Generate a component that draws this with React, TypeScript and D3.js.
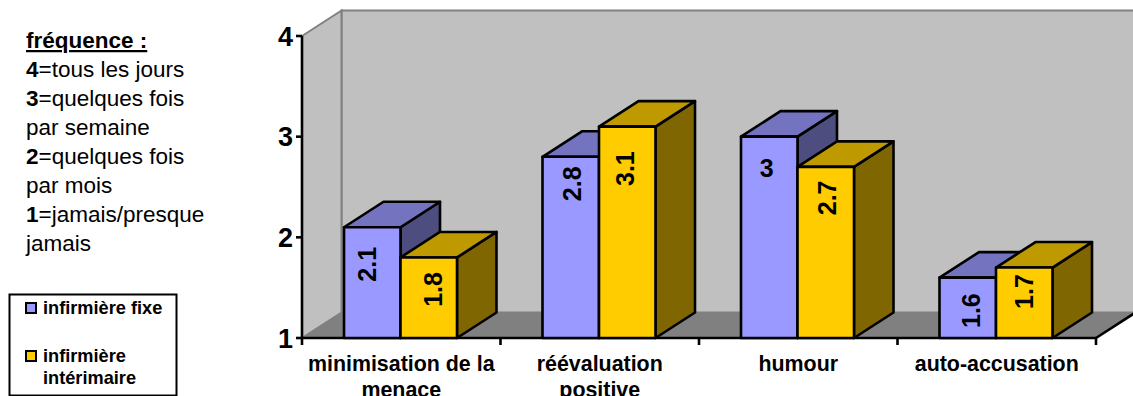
import React from "react";
import * as d3 from "d3";

const categories = [["minimisation de la", "menace"], ["réévaluation", "positive"], ["humour"], ["auto-accusation"]];
const seriesNames = ["infirmière fixe", "infirmière intérimaire"];
const fixe = [2.1, 2.8, 3, 1.6];
const interimaire = [1.8, 3.1, 2.7, 1.7];
const yTicks = [1, 2, 3, 4];
const noteLines: [string, string][] = [
  ["4", "=tous les jours"],
  ["3", "=quelques fois"],
  ["", "par semaine"],
  ["2", "=quelques fois"],
  ["", "par mois"],
  ["1", "=jamais/presque"],
  ["", "jamais"],
];

const palette = [
  { front: "#9999FF", top: "#7373BF", side: "#4D4D80" },
  { front: "#FFCC00", top: "#BF9900", side: "#806600" },
];
const FONT = "'Liberation Sans', Arial, sans-serif";
const DX = 39.5, DY = -25.5;
const labelDrop = [[37, 32], [27, 42], [31, 31], [33, 24]];
const labelShift = [[-5, 4], [1.5, -2.5], [-2.5, 1.5], [3.5, 0]];

export default function App() {
  const x = d3.scaleBand<number>().domain(d3.range(4)).range([302, 1096]);
  const y = d3.scaleLinear().domain([1, 4]).range([338, 36]);
  const inner = d3.scaleBand<number>().domain([0, 1]).range([42, 155]);
  const series = [fixe, interimaire];
  const x0 = x.range()[0], x1 = x.range()[1];
  const y0 = y(1), yT = y(4);
  const pts = (a: number[][]) => a.map((p) => p.join(",")).join(" ");
  return (
    <svg width={1133} height={396} style={{ position: "absolute", left: 0, top: 0, display: "block" }} fontFamily={FONT}>
      <rect width={1133} height={396} fill="#fff" />
      {/* walls */}
      <polygon points={pts([[x0 + DX, yT + DY], [1135, yT + DY], [1135, y0 + DY], [x0 + DX, y0 + DY]])} fill="#C0C0C0" stroke="#808080" strokeWidth={2} />
      <polygon points={pts([[x0, yT], [x0 + DX, yT + DY], [x0 + DX, y0 + DY], [x0, y0]])} fill="#C0C0C0" stroke="#808080" strokeWidth={2} />
      <polygon points={pts([[x0, y0], [x0 + DX, y0 + DY], [x1 + DX, y0 + DY], [x1, y0]])} fill="#808080" stroke="#808080" strokeWidth={1} />
      <line x1={x1} y1={y0} x2={x1 + DX} y2={y0 + DY} stroke="#000" strokeWidth={2.6} />
      {/* axes */}
      <line x1={x0} y1={yT} x2={x0} y2={y0} stroke="#000" strokeWidth={2.6} />
      <line x1={x0} y1={y0} x2={x1} y2={y0} stroke="#000" strokeWidth={2.6} />
      {yTicks.map((t) => (
        <g key={t}>
          <line x1={x0 - 6} x2={x0} y1={y(t)} y2={y(t)} stroke="#000" strokeWidth={2.6} />
          <text x={293} y={y(t) + 9.5} textAnchor="end" fontSize={27} fontWeight="bold">{t}</text>
        </g>
      ))}
      {d3.range(5).map((i) => {
        const tx = x0 + i * x.step();
        return <line key={i} x1={tx} x2={tx} y1={y0} y2={y0 + 7} stroke="#000" strokeWidth={2.6} />;
      })}
      {/* bars */}
      {d3.range(4).map((c) => (
        <g key={c}>
          {series.map((vals, s) => {
            const left = x(c)! + inner(s)!;
            const w = inner.bandwidth();
            const top = y(vals[c]);
            const c0 = palette[s];
            return (
              <g key={s} stroke="#000" strokeWidth={2.6} strokeLinejoin="round">
                <polygon fill={c0.side} points={pts([[left + w, top], [left + w + DX, top + DY], [left + w + DX, y0 + DY], [left + w, y0]])} />
                <polygon fill={c0.top} points={pts([[left, top], [left + DX, top + DY], [left + w + DX, top + DY], [left + w, top]])} />
                <rect x={left} y={top} width={w} height={y0 - top} fill={c0.front} />
              </g>
            );
          })}
          {series.map((vals, s) => {
            const cx = x(c)! + inner(s)! + inner.bandwidth() / 2 + labelShift[c][s];
            const cy = y(vals[c]) + labelDrop[c][s];
            const horiz = Number.isInteger(vals[c]);
            return (
              <text key={s} transform={`translate(${cx},${cy}) rotate(${horiz ? 0 : -90})`} textAnchor="middle" dy="0.36em" fontSize={25} fontWeight="bold">
                {vals[c]}
              </text>
            );
          })}
        </g>
      ))}
      {/* category labels */}
      {categories.map((lines, c) =>
        lines.map((l, j) => (
          <text key={l} x={x(c)! + x.bandwidth() / 2} y={371 + j * 26} textAnchor="middle" fontSize={21.4} fontWeight="bold">{l}</text>
        ))
      )}
      {/* frequency note */}
      <text x={26} y={48} fontSize={22.5} fontWeight="bold" textDecoration="underline">fréquence :</text>
      {noteLines.map(([b, t], i) => (
        <text key={i} x={26} y={77 + i * 29} fontSize={22.5}>
          {b && <tspan fontWeight="bold">{b}</tspan>}
          {t}
        </text>
      ))}
      {/* legend */}
      <rect x={9.5} y={294.5} width={167} height={101} fill="#fff" stroke="#000" strokeWidth={2} />
      <rect x={26} y={303} width={10} height={10} fill={palette[0].front} stroke="#000" strokeWidth={2} />
      <rect x={26} y={351} width={10} height={10} fill={palette[1].front} stroke="#000" strokeWidth={2} />
      <text x={43} y={314} fontSize={18.2} fontWeight="bold">{seriesNames[0]}</text>
      <text x={43} y={362} fontSize={18.2} fontWeight="bold">infirmière</text>
      <text x={43} y={384} fontSize={18.2} fontWeight="bold">intérimaire</text>
    </svg>
  );
}
